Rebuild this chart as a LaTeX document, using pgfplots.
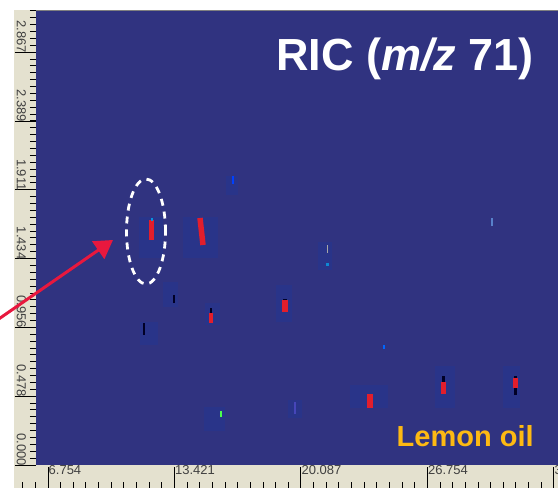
\documentclass[border=0pt]{standalone}
\usepackage{fontspec}
\setmainfont{Liberation Sans}
\usepackage{pgfplots}
\pgfplotsset{compat=1.18}
\usetikzlibrary{arrows.meta}
\definecolor{plotblue}{RGB}{48,51,128}
\definecolor{halo}{RGB}{30,54,155}
\definecolor{ruler}{RGB}{228,225,207}
\definecolor{spotred}{RGB}{226,30,44}
\definecolor{arrowred}{RGB}{232,24,62}
\definecolor{lemon}{RGB}{253,185,19}
\pgfplotsset{
  hl/.style={draw=halo,line width=#1,opacity=0.35,no marks,forget plot},
  sp/.style={draw=spotred,line width=#1,no marks,forget plot},
  dk/.style={draw=black!85!blue,line width=#1,no marks,forget plot},
}
\begin{document}
\begin{tikzpicture}[x=1pt,y=1pt]
\path[use as bounding box,fill=white] (0,0) rectangle (558,488);
\fill[ruler] (14,23) rectangle (36,478);
% x ruler along the bottom
\begin{axis}[at={(14pt,0pt)},anchor=south west,scale only axis,width=544pt,height=23pt,
  xmin=4.962,xmax=33.64,ymin=0,ymax=1,ytick=\empty,
  axis line style={draw=none},axis background/.style={fill=ruler},
  xtick={6.754,13.421,20.087,26.754,33.421},
  xticklabels={6.754,13.421,20.087,26.754,33.421},
  minor xtick={5.421,6.0873,6.754,...,33.7},
  tick align=inside,xtick pos=bottom,
  major tick length=21pt,minor tick length=6pt,
  tick style={black,line width=0.9pt},
  xticklabel style={anchor=south west,inner sep=0pt,xshift=0.5pt,yshift=13pt,font=\fontsize{13}{13}\selectfont,text=black!75}]
\end{axis}
% main map
\begin{axis}[at={(36pt,23pt)},anchor=south west,scale only axis,width=522pt,height=454.5pt,
  xmin=6.121,xmax=33.64,ymin=0,ymax=3.157,
  axis y line*=left,axis x line=none,axis line style={draw=none,-},
  axis background/.style={fill=plotblue},
  ytick={0,0.478,0.956,1.434,1.911,2.389,2.867},
  yticklabels={0.000,0.478,0.956,1.434,1.911,2.389,2.867},
  minor ytick={0,0.0478,...,3.15},
  ytick align=outside,
  major tick length=21pt,minor tick length=6pt,
  tick style={black,line width=0.9pt},
  yticklabel style={rotate=-90,anchor=south east,inner sep=0pt,xshift=1pt,yshift=1.5pt,font=\fontsize{13}{13}\selectfont,text=black!75}]
% halos around the peaks
\addplot[hl=24pt] coordinates {(12.184,1.438)(12.184,1.723)};
\addplot[hl=35pt] coordinates {(14.793,1.438)(14.793,1.723)};
\addplot[hl=15pt] coordinates {(13.212,1.097)(13.212,1.271)};
\addplot[hl=18pt] coordinates {(12.078,0.834)(12.078,0.993)};
\addplot[hl=15pt] coordinates {(15.426,0.972)(15.426,1.125)};
\addplot[hl=16pt] coordinates {(19.195,0.993)(19.195,1.250)};
\addplot[hl=21pt] coordinates {(15.531,0.236)(15.531,0.403)};
\addplot[hl=38pt] coordinates {(23.676,0.396)(23.676,0.556)};
\addplot[hl=20pt] coordinates {(27.682,0.396)(27.682,0.688)};
\addplot[hl=17pt] coordinates {(31.187,0.396)(31.187,0.688)};
\addplot[hl=14pt] coordinates {(21.356,1.354)(21.356,1.549)};
\addplot[hl=12pt] coordinates {(16.454,1.875)(16.454,2.007)};
\addplot[hl=14pt] coordinates {(19.775,0.326)(19.775,0.451)};
% red peaks
\addplot[sp=5.5pt] coordinates {(12.221,1.563)(12.221,1.702)};
\addplot[sp=5.5pt] coordinates {(14.767,1.716)(14.925,1.528)};
\addplot[sp=4.5pt] coordinates {(15.347,0.986)(15.347,1.056)};
\addplot[sp=5.5pt] coordinates {(19.247,1.063)(19.247,1.146)};
\addplot[sp=5.5pt] coordinates {(23.728,0.396)(23.728,0.493)};
\addplot[sp=5pt] coordinates {(27.629,0.493)(27.629,0.577)};
\addplot[sp=5pt] coordinates {(31.409,0.535)(31.409,0.604)};
% dark cores
\addplot[dk=2pt] coordinates {(15.347,1.056)(15.347,1.091)};
\addplot[dk=3.5pt] coordinates {(19.247,1.146)(19.247,1.153)};
\addplot[dk=3pt] coordinates {(27.629,0.577)(27.629,0.618)};
\addplot[dk=3pt] coordinates {(31.409,0.604)(31.409,0.618)};
\addplot[dk=2.5pt] coordinates {(31.409,0.486)(31.409,0.535)};
\addplot[dk=2.5pt] coordinates {(13.396,1.125)(13.396,1.181)};
\addplot[dk=2pt] coordinates {(11.815,0.903)(11.815,0.986)};
% small coloured spots
\addplot[draw=cyan!80!blue,line width=2.5pt,forget plot] coordinates {(12.236,1.695)(12.236,1.716)};
\addplot[draw=green!70!white,line width=2pt,forget plot] coordinates {(15.874,0.333)(15.874,0.375)};
\addplot[draw=cyan!70!blue,line width=3pt,forget plot] coordinates {(21.499,1.385)(21.499,1.406)};
\addplot[draw=gray!70,line width=1.5pt,forget plot] coordinates {(21.499,1.473)(21.499,1.528)};
\addplot[draw=blue!60!cyan,line width=2pt,forget plot] coordinates {(24.466,0.808)(24.466,0.836)};
\addplot[draw=blue!45!gray,line width=1.5pt,forget plot] coordinates {(19.775,0.354)(19.775,0.438)};
\addplot[draw=blue!75!cyan,line width=2.5pt,forget plot] coordinates {(16.506,1.952)(16.506,2.007)};
\addplot[draw=cyan!40!blue!70!white,line width=2.5pt,forget plot] coordinates {(30.160,1.660)(30.160,1.716)};
\end{axis}
% annotations, page coordinates
\draw[gray,line width=0.6pt] (36,477.7) -- (558,477.7);
\draw[white,line width=2.8pt,dash pattern=on 7pt off 6pt] (146,256.5) ellipse [x radius=19.5,y radius=52.5];
\draw[arrowred,line width=3pt,-{Triangle[length=18pt,width=21pt]}] (-2,168.5) -- (113,248);
\node[anchor=base west,inner sep=0pt,text=white,font=\fontsize{45}{45}\selectfont\bfseries] at (276,417) {RIC (\textit{m/z} 71)};
\node[anchor=base west,inner sep=0pt,text=lemon,font=\fontsize{29}{29}\selectfont\bfseries] at (396.5,41) {Lemon oil};
\end{tikzpicture}
\end{document}
